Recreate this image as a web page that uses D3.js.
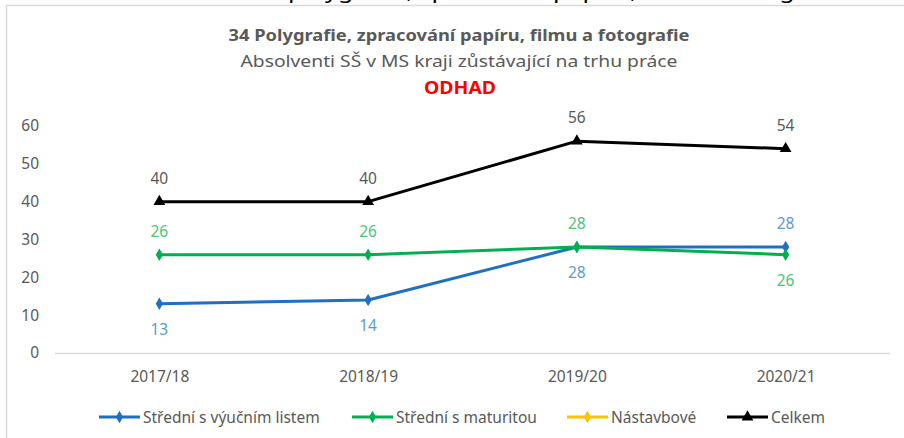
<!DOCTYPE html>
<html lang="cs">
<head>
<meta charset="UTF-8">
<title>34 Polygrafie</title>
<script src="https://cdn.jsdelivr.net/npm/d3@7/dist/d3.min.js"></script>
<style>
  html, body { margin: 0; padding: 0; background: #fff; }
  svg { display: block; font-family: "Noto Sans", "Open Sans", sans-serif; }
</style>
</head>
<body>
<svg width="904" height="438"></svg>
<script>
// data
var years = ["2017/18", "2018/19", "2019/20", "2020/21"];
var vyucni = [13, 14, 28, 28];
var maturita = [26, 26, 28, 26];
var nastavba = [null, null, null, null];
var celkem = [40, 40, 56, 54];
var seriesNames = ["Střední s výučním listem", "Střední s maturitou", "Nástavbové", "Celkem"];
var yTicks = [0, 10, 20, 30, 40, 50, 60];

var series = [
  { name: seriesNames[0], values: vyucni,   color: "#1f70c1", label: "#5b9bd5", symbol: d3.symbolDiamond,  pos: ["below", "below", "below", "above"] },
  { name: seriesNames[1], values: maturita, color: "#00b050", label: "#4cc57b", symbol: d3.symbolDiamond,  pos: ["above", "above", "above", "below"] },
  { name: seriesNames[2], values: nastavba, color: "#ffc000", label: "#ffc000", symbol: d3.symbolDiamond,  pos: ["above", "above", "above", "above"] },
  { name: seriesNames[3], values: celkem,   color: "#000000", label: "#595959", symbol: d3.symbolTriangle, pos: ["above", "above", "above", "above"] }
];

var svg = d3.select("svg");
var numFont = "15.5px";

// kousek textu z dokumentu nad grafem (oříznutý)
svg.append("text")
  .attr("x", 288).attr("y", -2)
  .attr("textLength", 560).attr("lengthAdjust", "spacingAndGlyphs")
  .style("font-size", "21px").style("fill", "#000")
  .text("polygrafie, zpracování papíru, filmu a fotografie");

// rámeček grafu
svg.append("path")
  .attr("d", "M6.5,438 L6.5,5.5 L904,5.5")
  .attr("fill", "none").attr("stroke", "#d9d9d9").attr("stroke-width", 1.5);

// titulky
svg.append("text")
  .attr("x", 459).attr("y", 41).attr("text-anchor", "middle")
  .attr("textLength", 461).attr("lengthAdjust", "spacingAndGlyphs")
  .style("font-size", "16px").style("font-weight", "bold").style("fill", "#595959")
  .text("34 Polygrafie, zpracování papíru, filmu a fotografie");
svg.append("text")
  .attr("x", 459).attr("y", 67).attr("text-anchor", "middle")
  .attr("textLength", 437).attr("lengthAdjust", "spacingAndGlyphs")
  .style("font-size", "16px").style("fill", "#595959")
  .text("Absolventi SŠ v MS kraji  zůstávající na trhu práce");
svg.append("text")
  .attr("x", 460).attr("y", 94).attr("text-anchor", "middle")
  .attr("textLength", 72).attr("lengthAdjust", "spacingAndGlyphs")
  .style("font-size", "17px").style("font-weight", "bold").style("fill", "#ff0000")
  .text("ODHAD");

// měřítka
var x = d3.scalePoint().domain(years).range([55, 890]).padding(0.5);
var y = d3.scaleLinear().domain([0, 60]).range([353, 126]);

// osa y
var yAxis = svg.append("g")
  .attr("transform", "translate(39,0)")
  .call(d3.axisLeft(y).tickValues(yTicks).tickSize(0).tickPadding(0));
yAxis.select(".domain").remove();
yAxis.selectAll("text")
  .style("font-family", "'Noto Sans', sans-serif")
  .style("font-size", numFont).style("fill", "#595959");

// osa x
var xAxis = svg.append("g")
  .attr("transform", "translate(0,353)")
  .call(d3.axisBottom(x).tickSize(0).tickPadding(18));
xAxis.select(".domain").remove();
xAxis.selectAll("text")
  .style("font-family", "'Noto Sans', sans-serif")
  .style("font-size", numFont).style("fill", "#595959");
svg.append("line")
  .attr("x1", x.range()[0]).attr("x2", x.range()[1])
  .attr("y1", y(0) + 0.5).attr("y2", y(0) + 0.5)
  .attr("stroke", "#d9d9d9").attr("stroke-width", 1.5);

// čáry
var line = d3.line()
  .defined(function (d) { return d.v != null; })
  .x(function (d) { return x(d.year); })
  .y(function (d) { return y(d.v); });

series.forEach(function (s) {
  var pts = years.map(function (yr, i) { return { year: yr, v: s.values[i], pos: s.pos[i] }; });
  var g = svg.append("g");
  g.append("path")
    .datum(pts)
    .attr("d", line)
    .attr("fill", "none")
    .attr("stroke", s.color)
    .attr("stroke-width", 3)
    .attr("stroke-linejoin", "round");
  var valid = pts.filter(function (d) { return d.v != null; });
  g.selectAll("path.mk")
    .data(valid)
    .enter().append("path")
    .attr("class", "mk")
    .attr("d", d3.symbol().type(s.symbol).size(s.symbol === d3.symbolTriangle ? 60 : 45))
    .attr("transform", function (d) { return "translate(" + x(d.year) + "," + y(d.v) + ")"; })
    .attr("fill", s.color);
  g.selectAll("text")
    .data(valid)
    .enter().append("text")
    .attr("x", function (d) { return x(d.year); })
    .attr("y", function (d) { return y(d.v) + (d.pos === "above" ? -18 : 31); })
    .attr("text-anchor", "middle")
    .style("font-size", numFont)
    .style("fill", s.label)
    .text(function (d) { return d.v; });
});

// legenda
var legendX = [99, 352, 567, 727];
var legend = svg.append("g").attr("transform", "translate(0,417)");
series.forEach(function (s, i) {
  var lg = legend.append("g").attr("transform", "translate(" + legendX[i] + ",0)");
  lg.append("line")
    .attr("x1", 0).attr("x2", 41).attr("y1", 0).attr("y2", 0)
    .attr("stroke", s.color).attr("stroke-width", 3);
  lg.append("path")
    .attr("d", d3.symbol().type(s.symbol).size(s.symbol === d3.symbolTriangle ? 60 : 45))
    .attr("transform", "translate(20.5,0)")
    .attr("fill", s.color);
  lg.append("text")
    .attr("x", 44).attr("y", 5.5)
    .style("font-size", numFont).style("fill", "#595959")
    .text(s.name);
});
</script>
</body>
</html>
